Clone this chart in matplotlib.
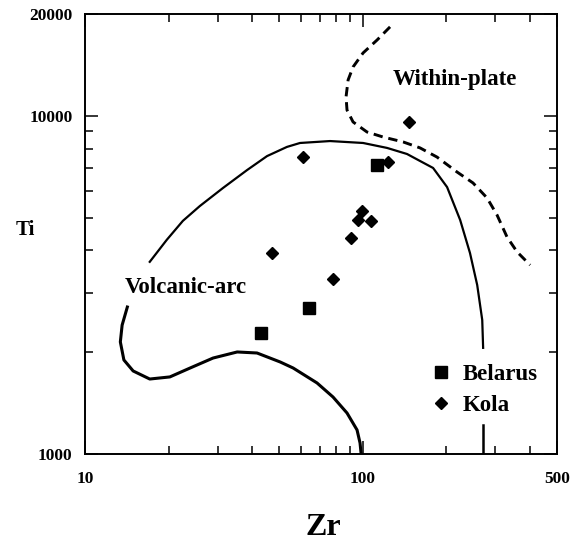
import matplotlib
matplotlib.use("Agg")
import matplotlib.pyplot as plt
from matplotlib.ticker import FixedLocator, NullFormatter, FixedFormatter

plt.rcParams["font.family"] = "Liberation Serif"
plt.rcParams["font.weight"] = "bold"
plt.rcParams["axes.labelweight"] = "bold"

# Belarus and Kola samples (Zr, Ti in ppm)
belarus_zr = [43, 64, 112]
belarus_ti = [2280, 2700, 7150]
kola_zr = [61, 147, 123, 99, 96, 107, 91, 47, 78]
kola_ti = [7550, 9600, 7300, 5230, 4920, 4890, 4350, 3930, 3290]

# discrimination field boundaries
arc_upper_zr = [17.1, 19.7, 22.5, 25.9, 31.4, 38.3, 45.2, 53.3, 59.4, 76.2,
                100.2, 122.2, 144.2, 160.7, 179.0, 201, 224, 243, 258, 269, 271]
arc_upper_ti = [3700, 4300, 4890, 5410, 6120, 6910, 7600, 8090, 8310, 8420,
                8310, 8035, 7710, 7350, 7010, 6155, 4920, 3930, 3160, 2490, 2060]
arc_stub_zr = [271, 271]
arc_stub_ti = [1218, 1000]
arc_lower_zr = [14.2, 13.6, 13.4, 13.8, 14.9, 17.1, 20.2, 23.9, 28.9, 35.3,
                41.6, 50.4, 56.1, 68.4, 78.1, 87.7, 95.3, 97.7, 98.6]
arc_lower_ti = [2720, 2405, 2145, 1897, 1760, 1666, 1690, 1796, 1922, 2003,
                1989, 1871, 1796, 1622, 1474, 1322, 1178, 1078, 1000]
wpb_zr = [125.3, 112.5, 100.2, 92.2, 88.5, 87.0, 87.7, 92.2, 103.5, 118.2,
          139.6, 160.7, 184.9, 218.3, 249.2, 280.0, 304.1, 330.4, 359.0, 400.0]
wpb_ti = [18320, 16750, 15340, 13940, 12760, 11370, 10400, 9590, 8955, 8655,
          8370, 8035, 7550, 6820, 6330, 5715, 5090, 4380, 3960, 3620]

x_major = [10, 100, 500]
x_minor = [20, 30, 40, 50, 60, 70, 80, 90, 200, 300, 400]
y_major = [1000, 10000, 20000]
y_minor = [2000, 3000, 4000, 5000, 6000, 7000, 8000, 9000]

fig = plt.figure(figsize=(5.8, 5.46), dpi=100)
ax = fig.add_axes([0.1466, 0.1685, 0.8138, 0.8059])
ax.set_xscale("log")
ax.set_yscale("log")
ax.set_xlim(10, 500)
ax.set_ylim(1000, 20000)

ax.plot(arc_upper_zr, arc_upper_ti, color="black", lw=1.6,
        solid_joinstyle="round")
ax.plot(arc_stub_zr, arc_stub_ti, color="black", lw=1.8)
ax.plot(arc_lower_zr, arc_lower_ti, color="black", lw=2.2,
        solid_joinstyle="round")
ax.plot(wpb_zr, wpb_ti, color="black", lw=2.1, dashes=(3.2, 2.0))

ax.plot(belarus_zr, belarus_ti, "s", color="black", ms=9.2, label="Belarus")
ax.plot(kola_zr, kola_ti, "D", color="black", ms=6.6, label="Kola")

ax.text(128, 12760, "Within-plate", fontsize=16.5, ha="left", va="center")
ax.text(13.9, 3117, "Volcanic-arc", fontsize=16.5, ha="left", va="center")

ax.legend(loc="center left", bbox_to_anchor=(0.73, 0.145), frameon=False,
          fontsize=16.5, handlelength=1.0, handletextpad=0.45,
          labelspacing=0.42, borderpad=0, borderaxespad=0, numpoints=1)

ax.xaxis.set_major_locator(FixedLocator(x_major))
ax.xaxis.set_major_formatter(FixedFormatter([str(v) for v in x_major]))
ax.xaxis.set_minor_locator(FixedLocator(x_minor))
ax.xaxis.set_minor_formatter(NullFormatter())
ax.yaxis.set_major_locator(FixedLocator(y_major))
ax.yaxis.set_major_formatter(FixedFormatter([str(v) for v in y_major]))
ax.yaxis.set_minor_locator(FixedLocator(y_minor))
ax.yaxis.set_minor_formatter(NullFormatter())

ax.tick_params(which="both", direction="in", top=True, right=True,
               labelsize=12.5, width=1.1)
ax.tick_params(which="major", length=9.5)
ax.tick_params(which="minor", length=5.5)
ax.tick_params(axis="x", pad=12)
ax.tick_params(axis="y", pad=9)
for s in ax.spines.values():
    s.set_linewidth(1.4)

ax.set_ylabel("Ti", fontsize=15, rotation=0, va="center", ha="center")
ax.yaxis.set_label_coords(-0.127, 0.509)
ax.set_xlabel("Zr", fontsize=23, va="center", ha="center")
ax.xaxis.set_label_coords(0.504, -0.166)

fig.savefig("out.png", dpi=100)
